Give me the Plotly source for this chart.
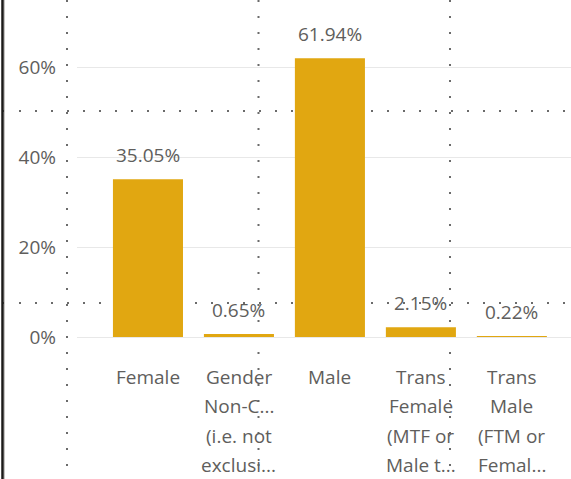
import plotly.graph_objects as go

categories = ["Female", "Gender Non-Conforming (i.e. not exclusively)", "Male",
              "Trans Female (MTF or Male to Female)", "Trans Male (FTM or Female to Male)"]
tick_lines = [["Female"],
              ["Gender", "Non-C...", "(i.e. not", "exclusi..."],
              ["Male"],
              ["Trans", "Female", "(MTF or", "Male t..."],
              ["Trans", "Male", "(FTM or", "Femal..."]]
shares = [0.3505, 0.0065, 0.6194, 0.0215, 0.0022]
label_texts = ["35.05%", "0.65%", "61.94%", "2.15%", "0.22%"]
y_ticks = [0, 0.2, 0.4, 0.6]
y_tick_labels = ["0%", "20%", "40%", "60%"]

W, H = 571, 479
L, R, T, B = 77, 0, 0, 142
PW, PH = W - L - R, H - T - B

FONT = "Segoe UI, Open Sans, Noto Sans, sans-serif"
GRAY = "#605E5C"
BAR = "#E1A711"

fig = go.Figure()
fig.add_trace(go.Bar(
    x=categories, y=shares, marker=dict(color=BAR, line=dict(width=0)),
    hoverinfo="skip", showlegend=False,
))

for c, v, t in zip(categories, shares, label_texts):
    fig.add_annotation(x=c, y=v, xref="x", yref="y", text=t, showarrow=False,
                       yanchor="bottom", yshift=9,
                       font=dict(family=FONT, size=19, color=GRAY))

def px_x(p):
    return (p - L) / PW

def px_y(p):
    return (H - B - p) / PH

# wrapped category labels (Power BI style line spacing)
LINE_Y0, LINE_STEP = 377, 29.4
for c, lines in zip(categories, tick_lines):
    for i, ln in enumerate(lines):
        fig.add_annotation(x=c, xref="x", yref="paper", y=px_y(LINE_Y0 + i * LINE_STEP),
                           text=ln, showarrow=False, yanchor="middle", xanchor="center",
                           font=dict(family=FONT, size=19, color=GRAY))

shapes = []
# Power BI canvas dotted grid overlay
for vx in [67, 258.5, 450]:
    shapes.append(dict(type="line", xref="paper", yref="paper",
                       x0=px_x(vx), x1=px_x(vx), y0=px_y(0), y1=px_y(H),
                       line=dict(color="#6b6b6b", width=2, dash="2px,14px"), layer="below"))
for hy in [111, 303]:
    shapes.append(dict(type="line", xref="paper", yref="paper",
                       x0=px_x(3), x1=px_x(W), y0=px_y(hy), y1=px_y(hy),
                       line=dict(color="#6b6b6b", width=2, dash="2px,14px"), layer="below"))
# left border
shapes.append(dict(type="line", xref="paper", yref="paper",
                   x0=px_x(2.5), x1=px_x(2.5), y0=px_y(0), y1=px_y(H),
                   line=dict(color="#1b1a19", width=2.5), layer="above"))
shapes.append(dict(type="line", xref="paper", yref="paper",
                   x0=px_x(4.5), x1=px_x(4.5), y0=px_y(0), y1=px_y(H),
                   line=dict(color="#c8c6c4", width=1), layer="above"))

fig.update_layout(
    width=W, height=H,
    margin=dict(l=L, r=R, t=T, b=B, pad=0),
    paper_bgcolor="white", plot_bgcolor="rgba(0,0,0,0)",
    bargap=0.23,
    shapes=shapes,
    font=dict(family=FONT, color=GRAY, size=19),
    xaxis=dict(
        type="category", range=[-0.78, 4.65],
        showticklabels=False,
        showgrid=False, showline=False, zeroline=False, ticks="",
    ),
    yaxis=dict(
        range=[0, PH / 450], tickvals=y_ticks, ticktext=y_tick_labels,
        showgrid=True, gridcolor="#E8E8E8", gridwidth=1,
        zeroline=True, zerolinecolor="#E8E8E8", zerolinewidth=1,
        showline=False, ticks="",
        tickfont=dict(family=FONT, size=19, color=GRAY),
        ticklabelstandoff=20,
    ),
)

fig.write_html("out.html", config={"displayModeBar": False},
               post_script="document.body.style.margin='0';")
